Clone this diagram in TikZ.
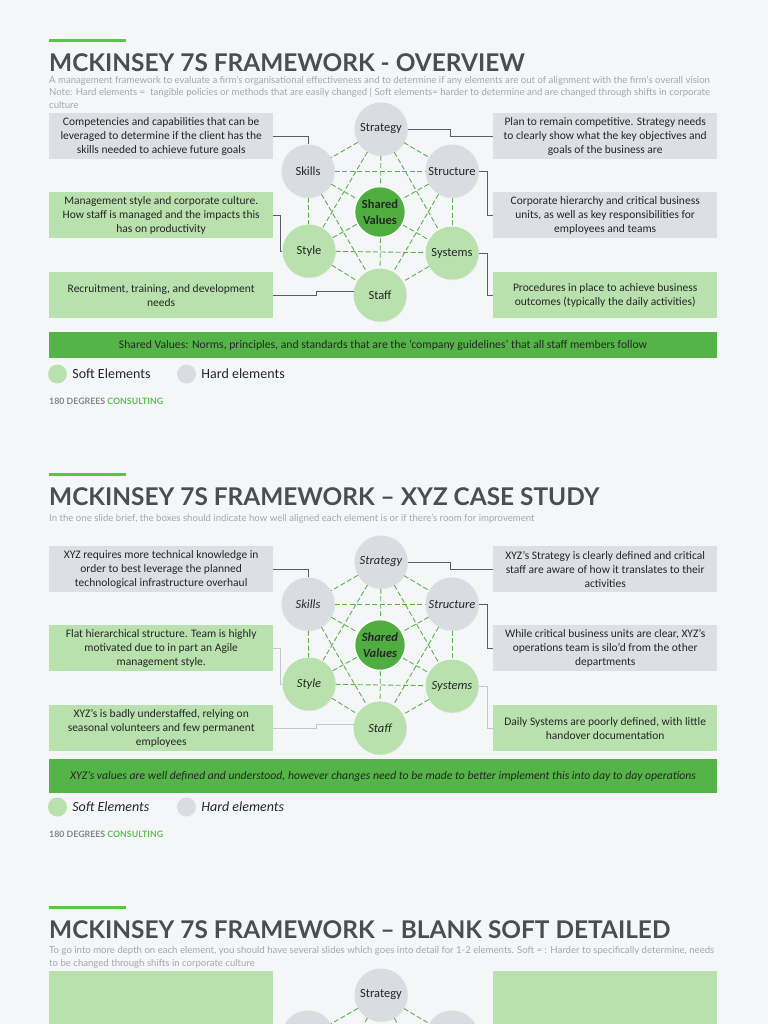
\documentclass[tikz,border=0pt]{standalone}
\usepackage{fontspec}
\setmainfont{Carlito}
\newfontfamily\lato{Lato}
\usetikzlibrary{positioning,shadows}

\definecolor{pagebg}{HTML}{F5F6F8}
\definecolor{hardgray}{HTML}{D9DCE0}
\definecolor{boxgray}{HTML}{DCDFE3}
\definecolor{softgreen}{HTML}{B9E1AE}
\definecolor{coregreen}{HTML}{4FAE3F}
\definecolor{bargreen}{HTML}{55B447}
\definecolor{dashgreen}{HTML}{5BB04C}
\definecolor{titlegray}{HTML}{4A4E53}
\definecolor{notegray}{HTML}{A3A7AB}
\definecolor{wiregray}{HTML}{595C60}
\definecolor{accent}{HTML}{5EC04E}

\pgfdeclarelayer{back}
\pgfdeclarelayer{links}
\pgfsetlayers{back,links,main}

\tikzset{
  element/.style={circle, minimum size=53pt, inner sep=0pt, align=center, text=black!85,
    font=\fontsize{12.5}{14}\selectfont,
    drop shadow={opacity=0.12, shadow xshift=0.6pt, shadow yshift=-0.8pt}},
  hard/.style={element, fill=hardgray},
  soft/.style={element, fill=softgreen},
  core/.style={element, minimum size=51pt, fill=coregreen, draw=white, line width=1.5pt,
    font=\fontsize{12.5}{16}\selectfont\bfseries},
  link/.style={dashgreen, dash pattern=on 5pt off 2.5pt, line width=0.9pt},
  wire/.style={wiregray, line width=0.8pt},
  faint/.style={wiregray!35, line width=0.7pt},
  infobox/.style={rectangle, anchor=north west, minimum width=224pt, minimum height=46pt,
    inner sep=1pt, align=center, text=black!85, font=\fontsize{11.5}{14}\selectfont},
  graybox/.style={infobox, fill=boxgray},
  greenbox/.style={infobox, fill=softgreen},
  heading/.style={anchor=base west, inner sep=0pt, text=titlegray,
    font=\lato\bfseries\fontsize{24.4}{28}\selectfont},
  note/.style={anchor=north west, inner sep=0pt, align=left, text=notegray,
    font=\lato\fontsize{9.6}{12.6}\selectfont},
  bar/.style={rectangle, fill=bargreen, minimum width=668pt, inner sep=0pt, text=black!85,
    font=\fontsize{11.7}{13}\selectfont},
  dot/.style={circle, minimum size=19pt, inner sep=0pt},
  legend/.style={inner sep=0pt, text=black!85, font=\fontsize{14}{16}\selectfont},
  footer/.style={anchor=base west, inner sep=0pt, text=notegray!80!black,
    font=\lato\bfseries\fontsize{8.8}{10}\selectfont}
}

% the seven circles of one slide, #1 prefix, #2 vertical offset, #3 label shape
\newcommand{\wheel}[3]{%
  \begin{scope}[shift={(0,#2)}]
    \node[hard] (#1-strategy) at (381,129) {#3Strategy};
    \node[hard] (#1-skills) at (308,171) {#3Skills};
    \node[hard] (#1-structure) at (452,171) {#3Structure};
    \node[core] (#1-values) at (380,212) {#3Shared\\#3Values};
    \node[soft] (#1-style) at (309,251) {#3Style};
    \node[soft] (#1-systems) at (452,253) {#3Systems};
    \node[soft] (#1-staff) at (380,295) {#3Staff};
  \end{scope}
  \begin{pgfonlayer}{links}
    \foreach \a/\b in {strategy/skills, strategy/structure, skills/style, structure/systems,
        style/staff, systems/staff, skills/structure, style/systems, strategy/style,
        strategy/systems, skills/staff, structure/staff, strategy/staff, skills/systems,
        structure/style}
      \draw[link] (#1-\a) -- (#1-\b);
  \end{pgfonlayer}
}

\begin{document}
\begin{tikzpicture}[x=1pt, y=-1pt]
\useasboundingbox (0,0) rectangle (768,1024);
\begin{pgfonlayer}{back}
  \fill[pagebg] (0,0) rectangle (768,1024);
\end{pgfonlayer}

% overview slide
\draw[accent, line width=3pt] (49,41) -- (126,41);
\node[heading] (o-title) at (49,72) {MCKINSEY 7S FRAMEWORK - OVERVIEW};
\node[note] (o-note) at (49,75.5) {A management framework to evaluate a firm’s organisational effectiveness and to determine if any elements are out of alignment with the firm’s overall vision\\
  Note: Hard elements =\ \ tangible policies or methods that are easily changed | Soft elements= harder to determine and are changed through shifts in corporate\\culture};

\wheel{o}{0}{}

\node[graybox] (o-skillsbox) at (49,113) {Competencies and capabilities that can be\\leveraged to determine if the client has the\\skills needed to achieve future goals};
\node[greenbox] (o-stylebox) at (49,192) {Management style and corporate culture.\\How staff is managed and the impacts this\\has on productivity};
\node[greenbox] (o-staffbox) at (49,272) {Recruitment, training, and development\\needs};
\node[graybox] (o-strategybox) at (493,113) {Plan to remain competitive. Strategy needs\\to clearly show what the key objectives and\\goals of the business are};
\node[graybox] (o-structurebox) at (493,192) {Corporate hierarchy and critical business\\units, as well as key responsibilities for\\employees and teams};
\node[greenbox] (o-systemsbox) at (493,272) {Procedures in place to achieve business\\outcomes (typically the daily activities)};

\draw[wire] (o-skillsbox.east) -| (o-skills.north);
\draw[wire] (o-stylebox.east) -- ++(7,0) |- (o-style.west);
\draw[wire] (o-staffbox.east) -- ++(43,0) |- (o-staff.172);
\draw[wire] (o-strategy.east) -- ++(43,0) |- (o-strategybox.west);
\draw[wire] (o-structure.east) -- ++(9,0) |- (o-structurebox.west);
\draw[wire] (o-systems.east) -- ++(9,0) |- (o-systemsbox.west);

\node[bar, minimum height=26pt] (o-bar) at (383,345) {Shared Values: Norms, principles, and standards that are the ‘company guidelines’ that all staff members follow};
\node[dot, fill=softgreen] (o-softdot) at (57.5,374) {};
\node[legend, right=5pt of o-softdot] (o-soft) {Soft Elements};
\node[dot, fill=hardgray] (o-harddot) at (186.5,374) {};
\node[legend, right=5pt of o-harddot] (o-hard) {Hard elements};
\node[footer] (o-footer) at (49,404) {180 DEGREES \textcolor{accent}{CONSULTING}};

% case study slide
\draw[accent, line width=3pt] (49,474) -- (126,474);
\node[heading] (x-title) at (49,505) {MCKINSEY 7S FRAMEWORK – XYZ CASE STUDY};
\node[note] (x-note) at (49,514) {In the one slide brief, the boxes should indicate how well aligned each element is or if there’s room for improvement};

\wheel{x}{433}{\itshape}

\begin{scope}[every node/.append style={font=\fontsize{11.5}{14}\selectfont\itshape}]
\node[graybox] (x-skillsbox) at (49,546) {XYZ requires more technical knowledge in\\order to best leverage the planned\\technological infrastructure overhaul};
\node[greenbox] (x-stylebox) at (49,625) {Flat hierarchical structure. Team is highly\\motivated due to in part an Agile\\management style.};
\node[greenbox] (x-staffbox) at (49,705) {XYZ’s is badly understaffed, relying on\\seasonal volunteers and few permanent\\employees};
\node[graybox] (x-strategybox) at (493,546) {XYZ’s Strategy is clearly defined and critical\\staff are aware of how it translates to their\\activities};
\node[graybox] (x-structurebox) at (493,625) {While critical business units are clear, XYZ’s\\operations team is silo’d from the other\\departments};
\node[greenbox] (x-systemsbox) at (493,705) {Daily Systems are poorly defined, with little\\handover documentation};
\end{scope}

\draw[wire] (x-skillsbox.east) -| (x-skills.north);
\draw[faint] (x-stylebox.east) -- ++(7,0) |- (x-style.west);
\draw[faint] (x-staffbox.east) -- ++(43,0) |- (x-staff.172);
\draw[wire] (x-strategy.east) -- ++(43,0) |- (x-strategybox.west);
\draw[wire] (x-structure.east) -- ++(9,0) |- (x-structurebox.west);
\draw[faint] (x-systems.east) -- ++(9,0) |- (x-systemsbox.west);

\node[bar, minimum height=34pt, font=\fontsize{11.7}{13}\selectfont\itshape] (x-bar) at (383,776) {XYZ’s values are well defined and understood, however changes need to be made to better implement this into day to day operations};
\node[dot, fill=softgreen] (x-softdot) at (57.5,807) {};
\node[legend, right=5pt of x-softdot, font=\fontsize{14}{16}\selectfont\itshape] (x-soft) {Soft Elements};
\node[dot, fill=hardgray] (x-harddot) at (186.5,807) {};
\node[legend, right=5pt of x-harddot, font=\fontsize{14}{16}\selectfont\itshape] (x-hard) {Hard elements};
\node[footer] (x-footer) at (49,837) {180 DEGREES \textcolor{accent}{CONSULTING}};

% blank soft detailed slide, cut by the page edge
\draw[accent, line width=3pt] (49,907) -- (126,907);
\node[heading] (k-title) at (49,938) {MCKINSEY 7S FRAMEWORK – BLANK SOFT DETAILED};
\node[note] (k-note) at (49,946.5) {To go into more depth on each element, you should have several slides which goes into detail for 1-2 elements. Soft = : Harder to specifically determine, needs\\to be changed through shifts in corporate culture};
\node[greenbox, minimum height=70pt] (k-leftbox) at (49,971) {};
\node[greenbox, minimum height=70pt] (k-rightbox) at (493,971) {};
\node[hard] (k-strategy) at (381,995) {Strategy};
\node[hard] (k-skills) at (308,1037) {};
\node[hard] (k-structure) at (452,1037) {};
\coordinate (k-style) at (309,1117);
\coordinate (k-systems) at (452,1119);
\begin{pgfonlayer}{links}
  \foreach \b in {skills, structure, style, systems}
    \draw[link] (k-strategy) -- (k-\b);
\end{pgfonlayer}
\end{tikzpicture}
\end{document}
